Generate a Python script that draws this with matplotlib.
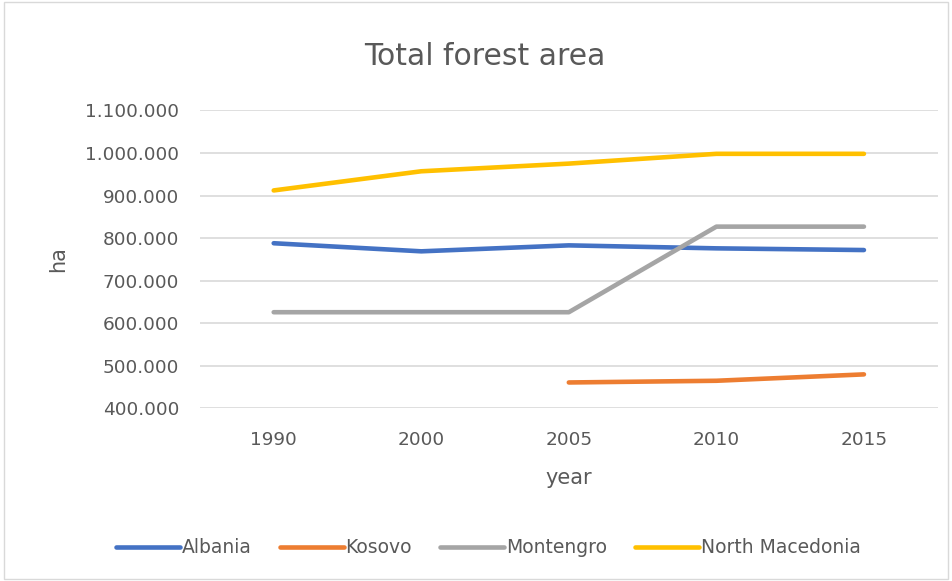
import matplotlib.pyplot as plt
import numpy as np
from matplotlib.patches import Rectangle
from matplotlib.ticker import FuncFormatter

years = ["1990", "2000", "2005", "2010", "2015"]
albania = [788000, 769000, 783000, 776000, 772000]
kosovo = [np.nan, np.nan, 461000, 465000, 480000]
montenegro = [626000, 626000, 626000, 827000, 827000]
north_macedonia = [912000, 957000, 975000, 998000, 998000]

series = [
    ("Albania", albania, "#4472C4"),
    ("Kosovo", kosovo, "#ED7D31"),
    ("Montengro", montenegro, "#A5A5A5"),
    ("North Macedonia", north_macedonia, "#FFC000"),
]

text_color = "#595959"
plt.rcParams["font.family"] = ["DejaVu Sans"]

fig = plt.figure(figsize=(9.52, 5.81), dpi=100)
ax = fig.add_axes([0.210, 0.297, 0.775, 0.513])

x = np.arange(len(years))
for name, vals, color in series:
    ax.plot(x, vals, color=color, lw=3.3, solid_capstyle="round",
            solid_joinstyle="round", label=name)

ax.set_xlim(-0.5, len(years) - 0.5)
ax.set_ylim(400000, 1100000)
ax.set_yticks(np.arange(400000, 1100001, 100000))
ax.yaxis.set_major_formatter(
    FuncFormatter(lambda v, p: f"{int(v):,}".replace(",", ".")))
ax.set_xticks(x)
ax.set_xticklabels(years)

ax.grid(axis="y", color="#D9D9D9", lw=1.2)
ax.set_axisbelow(True)
for s in ax.spines.values():
    s.set_visible(False)
ax.tick_params(length=0, labelsize=13.3, colors=text_color)
ax.tick_params(axis="x", pad=16)
ax.tick_params(axis="y", pad=15)

ax.set_xlabel("year", fontsize=15, color=text_color, labelpad=14)
ax.set_ylabel("ha", fontsize=15, color=text_color, labelpad=12)
fig.text(0.509, 0.902, "Total forest area", ha="center", va="center",
         fontsize=21.5, color=text_color)

fig.legend(loc="center", bbox_to_anchor=(0.513, 0.057), ncol=4,
           frameon=False, fontsize=13.5, labelcolor=text_color,
           handlelength=3.4, handletextpad=0.1, columnspacing=1.5)

fig.patches.append(Rectangle((0.004, 0.004), 0.992, 0.992,
                             transform=fig.transFigure, fill=False,
                             edgecolor="#D9D9D9", lw=1))

fig.savefig("out.png", dpi=100)
